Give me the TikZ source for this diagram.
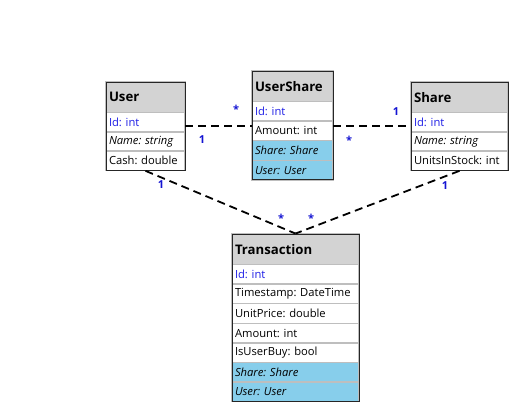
\documentclass[tikz,border=0pt]{standalone}
\usepackage{fontspec}
\setmainfont{Open Sans}
\frenchspacing
\usetikzlibrary{positioning, fit}
\definecolor{headcolor}{RGB}{211,211,211}
\definecolor{navcolor}{RGB}{135,206,235}
\definecolor{keycolor}{RGB}{30,30,230}
\definecolor{sepcolor}{RGB}{190,190,190}
\definecolor{multcolor}{RGB}{20,20,210}

\begin{document}
\begin{tikzpicture}[
    x=1pt, y=-1pt,
    font=\fontsize{11.2}{13}\selectfont,
    row/.style={draw=sepcolor, line width=1.5pt, fill=white, outer sep=0pt, inner xsep=3pt, inner ysep=0pt, minimum height=19.6pt, align=left, anchor=north west, execute at begin node={\hyphenpenalty=10000}},
    head/.style={row, fill=headcolor, minimum height=30.5pt, font=\fontsize{13.2}{15}\selectfont\bfseries},
    keyrow/.style={row, text=keycolor},
    navrow/.style={row, fill=navcolor, font=\fontsize{11.2}{13}\selectfont\itshape},
    frame/.style={draw=black!85, line width=0.9pt, inner sep=0pt},
    assoc/.style={draw, line width=1.8pt, dash pattern=on 8pt off 5pt},
    mult/.style={text=multcolor, font=\fontsize{11}{12}\selectfont\bfseries, inner sep=1pt}
]
    \useasboundingbox (0,0) rectangle (514,408);

    % User
    \node[head, text width=73pt] (user-h) at (106,82) {User};
    \node[keyrow, text width=73pt, below=0pt of user-h.south west, anchor=north west, minimum height=19.3pt] (user-1) {Id: int};
    \node[row, text width=73pt, below=0pt of user-1.south west, anchor=north west, minimum height=19.3pt, font=\fontsize{11.2}{13}\selectfont\itshape] (user-2) {Name: string};
    \node[row, text width=73pt, below=0pt of user-2.south west, anchor=north west, minimum height=19.3pt] (user-3) {Cash: double};
    \node[frame, fit=(user-h)(user-3)] (user) {};

    % UserShare
    \node[head, text width=75pt] (us-h) at (252,71) {UserShare};
    \node[keyrow, text width=75pt, below=0pt of us-h.south west, anchor=north west] (us-1) {Id: int};
    \node[row, text width=75pt, below=0pt of us-1.south west, anchor=north west] (us-2) {Amount: int};
    \node[navrow, text width=75pt, below=0pt of us-2.south west, anchor=north west] (us-3) {Share: Share};
    \node[navrow, text width=75pt, below=0pt of us-3.south west, anchor=north west] (us-4) {User: User};
    \node[frame, fit=(us-h)(us-4)] (usershare) {};

    % Share
    \node[head, text width=91pt] (share-h) at (411,82) {Share};
    \node[keyrow, text width=91pt, below=0pt of share-h.south west, anchor=north west, minimum height=19.3pt] (share-1) {Id: int};
    \node[row, text width=91pt, below=0pt of share-1.south west, anchor=north west, minimum height=19.3pt, font=\fontsize{11.2}{13}\selectfont\itshape] (share-2) {Name: string};
    \node[row, text width=91pt, below=0pt of share-2.south west, anchor=north west, minimum height=19.3pt] (share-3) {UnitsInStock: int};
    \node[frame, fit=(share-h)(share-3)] (share) {};

    % Transaction
    \node[head, text width=121pt] (tr-h) at (232,234) {Transaction};
    \node[keyrow, text width=121pt, below=0pt of tr-h.south west, anchor=north west] (tr-1) {Id: int};
    \node[row, text width=121pt, below=0pt of tr-1.south west, anchor=north west] (tr-2) {Timestamp: DateTime};
    \node[row, text width=121pt, below=0pt of tr-2.south west, anchor=north west] (tr-3) {UnitPrice: double};
    \node[row, text width=121pt, below=0pt of tr-3.south west, anchor=north west] (tr-4) {Amount: int};
    \node[row, text width=121pt, below=0pt of tr-4.south west, anchor=north west] (tr-5) {IsUserBuy: bool};
    \node[navrow, text width=121pt, below=0pt of tr-5.south west, anchor=north west] (tr-6) {Share: Share};
    \node[navrow, text width=121pt, below=0pt of tr-6.south west, anchor=north west] (tr-7) {User: User};
    \node[frame, fit=(tr-h)(tr-7)] (transaction) {};

    % Associations
    \draw[assoc] (user.east) -- (user.east -| usershare.west);
    \draw[assoc] (usershare.east |- share.west) -- (share.west);
    \draw[assoc] (user.south) -- (transaction.north);
    \draw[assoc] (share.south) -- (transaction.north);

    % Multiplicities
    \node[mult] (m-user-us) at (202,140) {1};
    \node[mult] (m-us-user) at (236,109) {*};
    \node[mult] (m-us-share) at (349,140) {*};
    \node[mult] (m-share-us) at (396,112) {1};
    \node[mult] (m-user-tr) at (161,185) {1};
    \node[mult] (m-tr-user) at (281,218) {*};
    \node[mult] (m-tr-share) at (311,218) {*};
    \node[mult] (m-share-tr) at (445,186) {1};
\end{tikzpicture}
\end{document}
